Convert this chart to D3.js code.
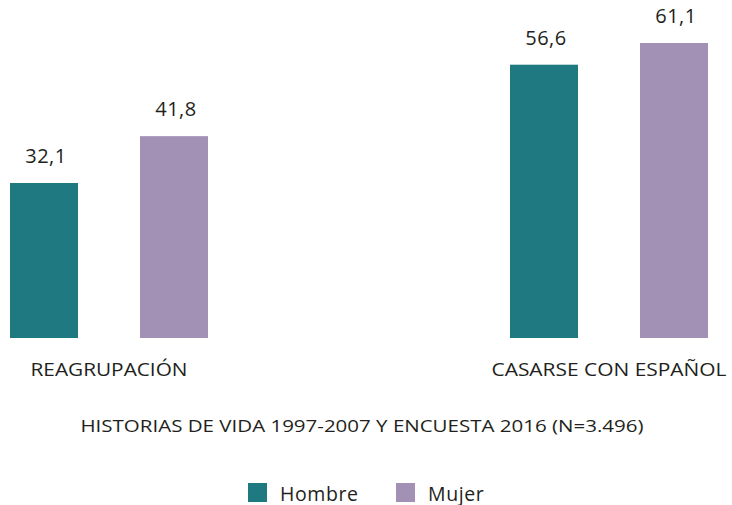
<!DOCTYPE html>
<html>
<head>
<meta charset="utf-8">
<script src="https://cdn.jsdelivr.net/npm/d3@7"></script>
<style>
  html, body { margin: 0; padding: 0; background: #fff; }
  svg { display: block; font-family: "Open Sans", sans-serif; }
</style>
</head>
<body>
<svg id="chart" width="732" height="505"></svg>
<script>
// Categories, series and values
const categories = ["REAGRUPACIÓN", "CASARSE CON ESPAÑOL"];
const series = ["Hombre", "Mujer"];
const hombre = [32.1, 56.6];
const mujer = [41.8, 61.1];
const colors = ["#1e7980", "#a291b5"];
const subtitle = "HISTORIAS DE VIDA 1997-2007 Y ENCUESTA 2016 (N=3.496)";

const data = categories.map((c, i) => ({ cat: c, values: [hombre[i], mujer[i]] }));

const svg = d3.select("#chart");
const textColor = "#231f20";

const x0 = d3.scaleBand().domain(categories).range([10, 708]).paddingInner(0.604).paddingOuter(0);
const x1 = d3.scaleBand().domain(series).range([0, x0.bandwidth()]).paddingInner(0.477).paddingOuter(0);
const y = d3.scaleLinear().domain([0, 70]).range([338, 0]);
const color = d3.scaleOrdinal().domain(series).range(colors);

const fmt = v => d3.format(".1f")(v).replace(".", ",");

const groups = svg.selectAll("g.group")
  .data(data)
  .join("g")
  .attr("class", "group")
  .attr("transform", d => `translate(${x0(d.cat)},0)`);

const cells = groups.selectAll("g.cell")
  .data(d => d.values.map((v, j) => ({ s: series[j], v })))
  .join("g")
  .attr("class", "cell");

cells.append("rect")
  .attr("x", d => x1(d.s))
  .attr("y", d => y(d.v))
  .attr("width", x1.bandwidth())
  .attr("height", d => y(0) - y(d.v))
  .attr("fill", d => color(d.s));

cells.append("text")
  .attr("x", d => x1(d.s) + x1.bandwidth() / 2 + 2)
  .attr("y", d => y(d.v) - 20)
  .attr("text-anchor", "middle")
  .attr("font-size", 20)
  .attr("letter-spacing", 0.5)
  .attr("fill", textColor)
  .text(d => fmt(d.v));

// Category axis labels (no axis line or ticks), stretched to the wide face
const labelWidths = [157, 235];
const xAxis = d3.axisBottom(x0).tickSize(0).tickPadding(0);
const axisG = svg.append("g")
  .attr("transform", `translate(0,${y(0)})`)
  .call(xAxis);
axisG.select(".domain").remove();
axisG.selectAll("text")
  .attr("dy", null)
  .attr("y", 37.5)
  .attr("font-size", 17.5)
  .attr("font-family", "'Open Sans', sans-serif")
  .attr("textLength", (d, i) => labelWidths[i])
  .attr("lengthAdjust", "spacingAndGlyphs")
  .attr("fill", textColor);

// Subtitle
svg.append("text")
  .attr("x", 362)
  .attr("y", 431.5)
  .attr("text-anchor", "middle")
  .attr("font-size", 17)
  .attr("textLength", 563)
  .attr("lengthAdjust", "spacingAndGlyphs")
  .attr("fill", textColor)
  .text(subtitle);

// Legend
const legendX = [248, 396];
const legend = svg.selectAll("g.legend")
  .data(series)
  .join("g")
  .attr("class", "legend")
  .attr("transform", (d, i) => `translate(${legendX[i]},483)`);
legend.append("rect")
  .attr("width", 19)
  .attr("height", 19)
  .attr("fill", d => color(d));
legend.append("text")
  .attr("x", 32)
  .attr("y", 17.5)
  .attr("font-size", 19.5)
  .attr("letter-spacing", 0.6)
  .attr("fill", textColor)
  .text(d => d);
</script>
</body>
</html>
